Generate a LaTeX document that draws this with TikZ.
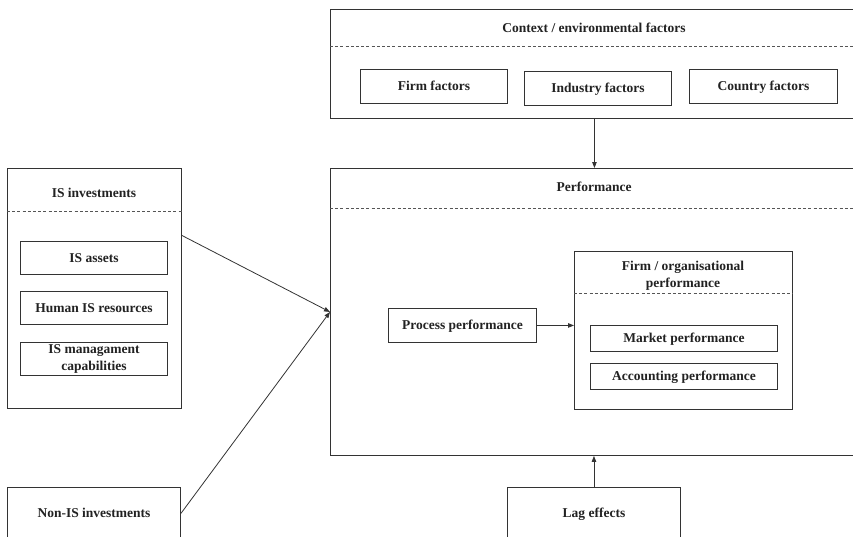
\documentclass[tikz,border=0pt]{standalone}
\usepackage{fontspec}
\setmainfont{Liberation Serif}
\usetikzlibrary{arrows.meta}
\definecolor{ink}{HTML}{222222}
\definecolor{linegray}{HTML}{333333}
\definecolor{dashgray}{HTML}{555555}
\begin{document}
\begin{tikzpicture}[x=1pt,y=-1pt,
  frame/.style={draw=linegray, line width=0.9pt, fill=white, inner sep=0pt,
    anchor=north west, font=\fontsize{13.5}{17}\selectfont\bfseries, text=ink, align=center},
  oneline/.style={text height=10pt, text depth=1.3pt},
  lbl/.style={font=\fontsize{13.5}{17}\selectfont\bfseries, text=ink, align=center, inner sep=0pt},
  sep/.style={draw=dashgray, line width=0.8pt, dash pattern=on 3pt off 2.2pt},
  arr/.style={draw=linegray, line width=0.8pt, -{Triangle[length=6pt,width=4.5pt]}}]
\useasboundingbox (0,0) rectangle (853,536);
\clip (0,0) rectangle (853,536);

% context / environmental factors
\node[frame, minimum width=528pt, minimum height=109pt] (ctx) at (330,9) {};
\node[lbl, oneline] (ctxT) at (594,28) {Context / environmental factors};
\draw[sep] (ctx.west |- 0,46) -- (ctx.east |- 0,46);
\node[frame, oneline, minimum width=147pt, minimum height=34pt] (firm) at (360,69) {Firm factors};
\node[frame, oneline, minimum width=147pt, minimum height=34pt] (ind) at (524,71) {Industry factors};
\node[frame, oneline, minimum width=148pt, minimum height=34pt] (ctry) at (689,69) {Country factors};

% performance
\node[frame, minimum width=528pt, minimum height=287pt] (perf) at (330,168) {};
\node[lbl, oneline] (perfT) at (594,187) {Performance};
\draw[sep] (perf.west |- 0,208) -- (perf.east |- 0,208);
\node[frame, oneline, minimum width=148pt, minimum height=34pt] (proc) at (388,308) {Process performance};
\node[frame, minimum width=218pt, minimum height=158pt] (org) at (574,251) {};
\node[lbl] (orgT) at (683,275.5) {Firm / organisational\\performance};
\draw[sep] (org.west |- 0,293) -- (org.east |- 0,293);
\node[frame, oneline, minimum width=187pt, minimum height=26pt] (mkt) at (590,325) {Market performance};
\node[frame, oneline, minimum width=187pt, minimum height=26pt] (acc) at (590,363) {Accounting performance};

% IS investments
\node[frame, minimum width=174pt, minimum height=240pt] (isinv) at (7,168) {};
\node[lbl, oneline] (isinvT) at (94,193) {IS investments};
\draw[sep] (isinv.west |- 0,211) -- (isinv.east |- 0,211);
\node[frame, oneline, minimum width=147pt, minimum height=33pt] (assets) at (20,241) {IS assets};
\node[frame, oneline, minimum width=147pt, minimum height=33pt] (human) at (20,291) {Human IS resources};
\node[frame, minimum width=147pt, minimum height=33pt] (mgmt) at (20,342) {IS managament\\capabilities};

% lower boxes
\node[frame, oneline, minimum width=173pt, minimum height=52pt] (nonis) at (7,487) {Non-IS investments};
\node[frame, oneline, minimum width=173pt, minimum height=52pt] (lag) at (507,487) {Lag effects};

% connectors
\draw[arr] (ctx.south) -- (perf.north);
\draw[arr] (lag.north) -- (lag.north |- perf.south);
\draw[arr] ([yshift=53pt]isinv.east) -- (perf.west);
\draw[arr] (nonis.east) -- (perf.west);
\draw[arr] (proc.east) -- (org.west |- proc.east);
\end{tikzpicture}
\end{document}
